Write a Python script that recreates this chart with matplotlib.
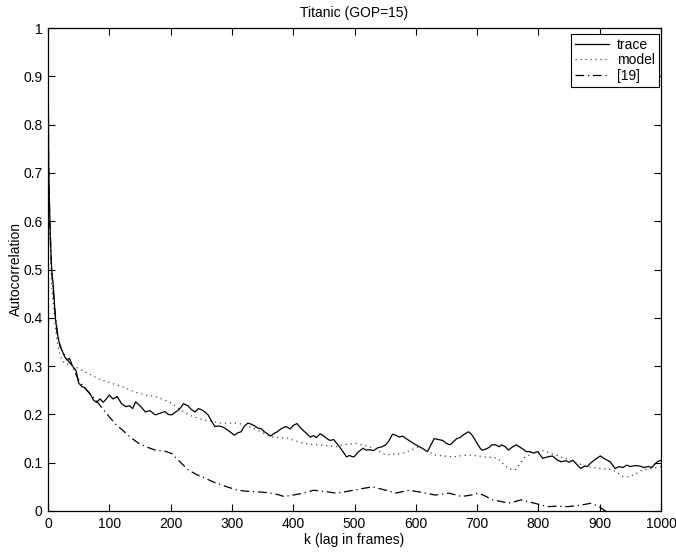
import matplotlib
matplotlib.use("Agg")
import matplotlib.pyplot as plt

plt.rcParams['font.family'] = ['Liberation Sans', 'DejaVu Sans']

title = "Titanic (GOP=15)"
xlabel = "k (lag in frames)"
ylabel = "Autocorrelation"
legend_labels = ["trace", "model", "[19]"]

trace_k = [0, 1, 2, 4, 6, 9, 12, 15, 18, 22, 27, 31, 35, 40, 46, 50, 55, 60, 68, 74, 79, 85, 90, 95,
           100, 106, 113, 120, 127, 133, 138, 143, 150, 159, 166, 175, 182, 191, 196, 202, 208, 214,
           221, 228, 234, 240, 245, 250, 256, 261, 266, 272, 280, 288, 296, 304, 310, 315, 320, 326,
           331, 336, 342, 348, 353, 358, 363, 368, 374, 380, 388, 395, 400, 406, 412, 417, 422, 428,
           433, 438, 444, 450, 455, 460, 466, 471, 476, 480, 487, 492, 497, 500, 506, 514, 519, 525,
           531, 538, 545, 551, 556, 562, 567, 573, 578, 584, 590, 595, 600, 606, 613, 619, 624, 630,
           637, 644, 650, 656, 661, 667, 672, 678, 686, 690, 694, 700, 705, 708, 714, 720, 724, 730,
           736, 740, 746, 751, 757, 764, 770, 775, 780, 786, 792, 799, 803, 807, 815, 823, 830, 837,
           845, 850, 856, 862, 869, 875, 880, 885, 892, 901, 908, 917, 921, 925, 932, 938, 944, 950,
           957, 966, 972, 979, 985, 990, 994, 1000]
trace_v = [1.0, 0.72, 0.65, 0.56, 0.50, 0.46, 0.40, 0.37, 0.35, 0.335, 0.32, 0.313, 0.316, 0.30, 0.29,
           0.265, 0.258, 0.255, 0.244, 0.23, 0.225, 0.232, 0.225, 0.232, 0.240, 0.232, 0.237, 0.222,
           0.216, 0.218, 0.212, 0.226, 0.218, 0.205, 0.208, 0.199, 0.202, 0.206, 0.200, 0.199, 0.205,
           0.210, 0.222, 0.218, 0.210, 0.205, 0.212, 0.210, 0.205, 0.199, 0.188, 0.175, 0.176, 0.172,
           0.165, 0.157, 0.162, 0.164, 0.175, 0.182, 0.180, 0.177, 0.172, 0.170, 0.164, 0.160, 0.155,
           0.160, 0.164, 0.170, 0.175, 0.170, 0.177, 0.181, 0.172, 0.166, 0.160, 0.153, 0.156, 0.152,
           0.160, 0.155, 0.150, 0.146, 0.148, 0.140, 0.132, 0.125, 0.112, 0.115, 0.112, 0.113, 0.122,
           0.130, 0.126, 0.127, 0.125, 0.131, 0.133, 0.137, 0.145, 0.159, 0.157, 0.153, 0.155, 0.150,
           0.145, 0.141, 0.137, 0.133, 0.128, 0.123, 0.135, 0.150, 0.148, 0.146, 0.140, 0.137, 0.143,
           0.150, 0.152, 0.158, 0.164, 0.160, 0.153, 0.140, 0.130, 0.126, 0.128, 0.132, 0.137, 0.137,
           0.133, 0.137, 0.133, 0.126, 0.132, 0.137, 0.132, 0.128, 0.123, 0.123, 0.120, 0.123, 0.116,
           0.109, 0.112, 0.114, 0.106, 0.102, 0.104, 0.101, 0.105, 0.097, 0.088, 0.093, 0.092, 0.099,
           0.106, 0.114, 0.108, 0.102, 0.095, 0.088, 0.092, 0.090, 0.095, 0.092, 0.094, 0.093, 0.090,
           0.092, 0.090, 0.097, 0.102, 0.105]

model_k = [0, 1, 3, 6, 9, 12, 15, 18, 23, 30, 40, 50, 60, 70, 80, 95, 110, 121, 135, 148, 160, 175,
           190, 202, 215, 229, 243, 256, 270, 283, 297, 310, 323, 336, 350, 363, 377, 390, 404, 417,
           430, 444, 457, 470, 482, 495, 503, 514, 525, 538, 551, 565, 578, 592, 605, 618, 632, 645,
           659, 672, 686, 700, 713, 724, 734, 742, 751, 762, 770, 778, 792, 805, 820, 837, 848, 858,
           868, 879, 890, 901, 912, 922, 930, 938, 949, 960, 970, 980, 987, 1000]
model_v = [1.0, 0.70, 0.58, 0.47, 0.42, 0.38, 0.35, 0.33, 0.31, 0.305, 0.30, 0.295, 0.288, 0.282,
           0.275, 0.268, 0.262, 0.257, 0.250, 0.244, 0.240, 0.237, 0.230, 0.223, 0.210, 0.199, 0.193,
           0.188, 0.185, 0.182, 0.182, 0.182, 0.177, 0.171, 0.162, 0.154, 0.152, 0.151, 0.145, 0.140,
           0.138, 0.137, 0.135, 0.133, 0.137, 0.139, 0.140, 0.136, 0.133, 0.125, 0.116, 0.118, 0.119,
           0.126, 0.133, 0.124, 0.116, 0.114, 0.112, 0.114, 0.116, 0.114, 0.112, 0.111, 0.109, 0.098,
           0.088, 0.085, 0.098, 0.112, 0.120, 0.126, 0.120, 0.112, 0.107, 0.102, 0.097, 0.092, 0.090,
           0.088, 0.087, 0.085, 0.078, 0.071, 0.071, 0.078, 0.085, 0.087, 0.088, 0.092]

ref_k = [0, 1, 3, 6, 10, 15, 20, 30, 40, 50, 60, 70, 78, 90, 100, 110, 121, 135, 148, 160, 175, 190,
         202, 215, 229, 243, 256, 270, 283, 297, 310, 323, 336, 350, 363, 375, 385, 400, 417, 433,
         454, 470, 485, 498, 515, 530, 551, 567, 589, 603, 616, 632, 654, 675, 690, 702, 715, 724,
         738, 751, 772, 794, 815, 830, 848, 869, 885, 898, 907, 915]
ref_v = [1.0, 0.72, 0.60, 0.50, 0.43, 0.37, 0.34, 0.315, 0.30, 0.27, 0.255, 0.24, 0.23, 0.21, 0.195,
         0.18, 0.168, 0.152, 0.140, 0.133, 0.126, 0.124, 0.119, 0.102, 0.085, 0.075, 0.068, 0.060,
         0.054, 0.048, 0.043, 0.041, 0.040, 0.039, 0.037, 0.034, 0.030, 0.033, 0.037, 0.043, 0.040,
         0.037, 0.040, 0.043, 0.047, 0.050, 0.043, 0.037, 0.043, 0.040, 0.037, 0.033, 0.037, 0.030,
         0.033, 0.037, 0.030, 0.023, 0.020, 0.016, 0.023, 0.016, 0.009, 0.010, 0.009, 0.012, 0.016,
         0.010, 0.002, -0.004]

x_ticks = [0, 100, 200, 300, 400, 500, 600, 700, 800, 900, 1000]
y_ticks = [0, 0.1, 0.2, 0.3, 0.4, 0.5, 0.6, 0.7, 0.8, 0.9, 1]
y_ticklabels = ["0", "0.1", "0.2", "0.3", "0.4", "0.5", "0.6", "0.7", "0.8", "0.9", "1"]

fig = plt.figure(figsize=(6.76, 5.53), dpi=100)
ax = fig.add_axes([48/676, 42/553, 613/676, 483/553])

l1, = ax.plot(trace_k, trace_v, color='black', lw=0.9, ls='-')
l2, = ax.plot(model_k, model_v, color='#444444', lw=0.9, ls=(0, (1, 3)))
l3, = ax.plot(ref_k, ref_v, color='black', lw=0.9, ls=(0, (7, 3, 1, 3)))

ax.set_xlim(0, 1000)
ax.set_ylim(0, 1)
ax.set_xticks(x_ticks)
ax.set_yticks(y_ticks)
ax.set_yticklabels(y_ticklabels)
ax.tick_params(direction='in', top=True, right=True, length=5, width=0.8, labelsize=10, pad=4)
for s in ax.spines.values():
    s.set_linewidth(0.9)

ax.set_title(title, fontsize=10, pad=8)
ax.set_xlabel(xlabel, fontsize=10, labelpad=2)
ax.set_ylabel(ylabel, fontsize=10, labelpad=0)

leg = ax.legend([l1, l2, l3], legend_labels, loc='upper right', bbox_to_anchor=(0.997, 0.988),
                fontsize=10, frameon=True, fancybox=False, edgecolor='black', framealpha=1,
                handlelength=2.4, borderpad=0.3, labelspacing=0.1, handletextpad=0.6,
                borderaxespad=0.0)
leg.get_frame().set_linewidth(0.8)

fig.savefig("out.png", dpi=100)
